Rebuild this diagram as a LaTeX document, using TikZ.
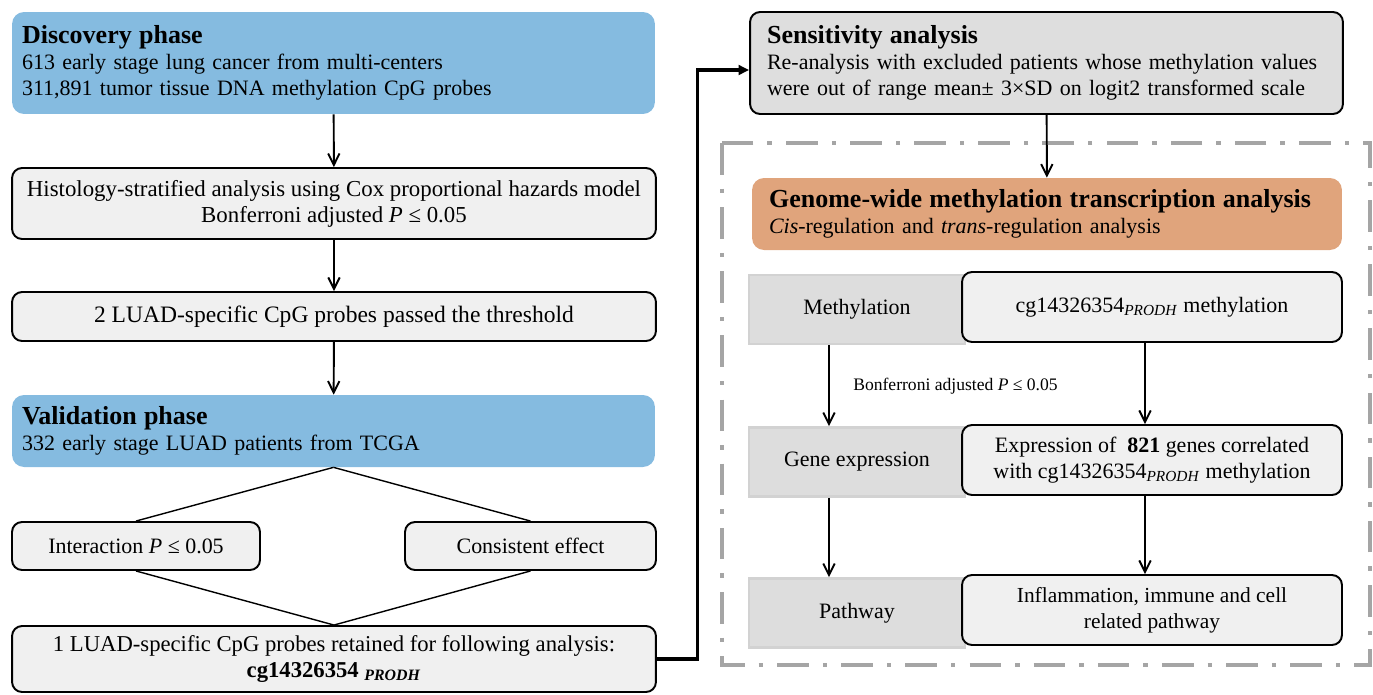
\documentclass[tikz,border=0pt]{standalone}
\usepackage{fontspec}
\setmainfont{Liberation Serif}
\usetikzlibrary{arrows,arrows.meta,shapes,positioning,calc}

\definecolor{phaseblue}{RGB}{133,187,224}
\definecolor{genorange}{RGB}{224,164,124}
\definecolor{sensgray}{RGB}{222,222,222}
\definecolor{stepgray}{RGB}{240,240,240}
\definecolor{levelgray}{RGB}{221,221,221}
\definecolor{levelrim}{RGB}{210,210,210}
\definecolor{framegray}{RGB}{165,165,165}

\begin{document}
\begin{tikzpicture}[x=0.02cm, y=-0.02cm,
		every node/.style={font=\fontsize{12.5}{14.7}\selectfont},
		phase/.style={rectangle, rounded corners=0.24cm, fill=phaseblue, inner xsep=0.2cm, align=left},
		stepbox/.style={rectangle, rounded corners=0.2cm, draw, line width=1.1pt, fill=stepgray, align=center},
		levelbox/.style={rectangle, draw=levelrim, line width=1.6pt, fill=levelgray, minimum width=4.32cm, minimum height=1.38cm},
		arr/.style={-{Straight Barb[length=6.5pt, width=6.5pt]}, line width=1.1pt},
		split/.style={line width=0.8pt}
	]
		\useasboundingbox (0,0) rectangle (1373,694);
		
		% left column
		\node[phase, text width=12.46cm, minimum height=2.04cm] (disc) at (333.5,63) {{\fontsize{14.8}{16}\selectfont\bfseries Discovery phase}\\613 early stage lung cancer from multi-centers\\311,891 tumor tissue DNA methylation CpG probes};
		\node[stepbox, minimum width=12.88cm, minimum height=1.42cm, font=\fontsize{13}{14.7}\selectfont] (hist) at (334,203.5) {Histology-stratified analysis using Cox proportional hazards model\\Bonferroni adjusted \textit{P} ≤ 0.05};
		\node[stepbox, minimum width=12.88cm, minimum height=0.98cm, font=\fontsize{13.4}{15}\selectfont] (passed) at (334,316.5) {2 LUAD-specific CpG probes passed the threshold};
		\node[phase, text width=12.46cm, minimum height=1.44cm] (valid) at (333.5,431) {{\fontsize{14.8}{16}\selectfont\bfseries Validation phase}\\332 early stage LUAD patients from TCGA};
		\node[stepbox, minimum width=4.96cm, minimum height=0.96cm] (inter) at (136,546) {Interaction \textit{P} ≤ 0.05};
		\node[stepbox, minimum width=5.02cm, minimum height=0.96cm] (cons) at (530.5,546) {Consistent effect};
		\node[stepbox, minimum width=12.88cm, minimum height=1.32cm, font=\fontsize{12.9}{14.7}\selectfont] (retained) at (334,659) {1 LUAD-specific CpG probes retained for following analysis:\\\textbf{cg14326354}~\textsubscript{\textbf{\textit{PRODH}}}};
		
		\draw[arr] (disc) -- (hist);
		\draw[arr] (hist) -- (passed);
		\draw[arr] (passed) -- (valid);
		\draw[split] (valid.south) -- (inter.north);
		\draw[split] (valid.south) -- (cons.north);
		\draw[split] (inter.south) -- (retained.north);
		\draw[split] (cons.south) -- (retained.north);
		
		% right column
		\draw[framegray, line width=2.8pt, dash pattern=on 18pt off 8pt on 2.5pt off 8pt] (722,143) rectangle (1370,665);
		
		\node[phase, fill=sensgray, draw, line width=1.1pt, rounded corners=0.2cm, inner xsep=0.34cm, text width=11.18cm, minimum height=2.04cm] (sens) at (1046.5,63) {{\fontsize{14.8}{16}\selectfont\bfseries Sensitivity analysis}\\Re-analysis with excluded patients whose methylation values\\were out of range mean± 3×SD on logit2 transformed scale};
		\node[phase, fill=genorange, inner xsep=0.34cm, text width=11.12cm, minimum height=1.44cm] (genome) at (1047,214) {{\fontsize{14.8}{16}\selectfont\bfseries Genome-wide methylation transcription analysis}\\\textit{Cis}-regulation and \textit{trans}-regulation analysis};
		
		\node[levelbox] (meth) at (857,309.5) {Methylation};
		\node[levelbox] (gexp) at (857,462) {Gene expression};
		\node[levelbox] (pathw) at (857,613) {Pathway};
		\node[stepbox, minimum width=7.6cm, minimum height=1.4cm] (cgmeth) at (1152,307) {cg14326354\textsubscript{\textit{PRODH}} methylation};
		\node[stepbox, minimum width=7.6cm, minimum height=1.4cm] (expr) at (1152,460) {Expression of \ \textbf{821} genes correlated\\with cg14326354\textsubscript{\textit{PRODH}} methylation};
		\node[stepbox, minimum width=7.6cm, minimum height=1.4cm, font=\fontsize{12.2}{14.7}\selectfont] (infl) at (1152,610) {Inflammation, immune and cell\\related pathway};
		
		\draw[-{Triangle[length=6pt, width=5.5pt]}, line width=1.8pt] (retained.east) -- ++(41,0) |- ([yshift=-0.14cm]sens.west);
		\draw[arr] (sens) -- (genome);
		\draw[arr] ([xshift=-0.56cm]meth.south) -- node[right, xshift=0.35cm, font=\fontsize{10}{12}\selectfont] (bonf) {Bonferroni adjusted \textit{P} ≤ 0.05} ([xshift=-0.56cm]gexp.north);
		\draw[arr] ([xshift=-0.56cm]gexp.south) -- ([xshift=-0.56cm]pathw.north);
		\draw[arr] ([xshift=-0.14cm]cgmeth.south) -- ([xshift=-0.14cm]expr.north);
		\draw[arr] ([xshift=-0.14cm]expr.south) -- ([xshift=-0.14cm]infl.north);
	\end{tikzpicture}
\end{document}
